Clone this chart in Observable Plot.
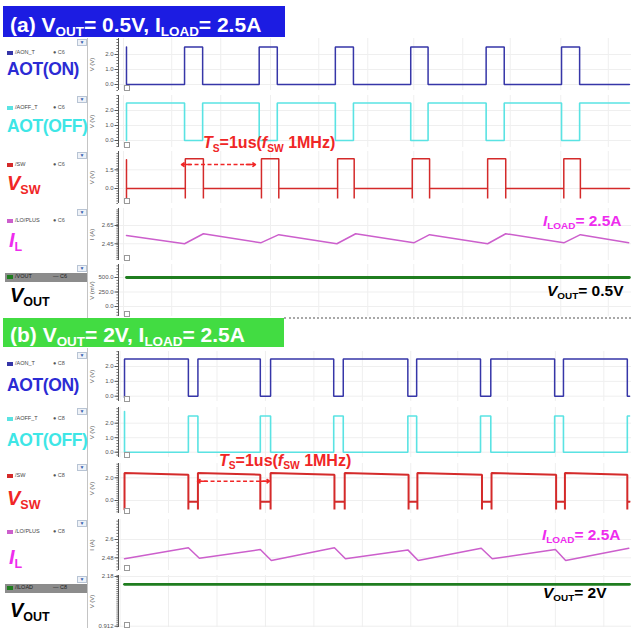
<!DOCTYPE html>
<html><head><meta charset="utf-8">
<script src="https://cdn.jsdelivr.net/npm/d3@7"></script>
<script src="https://cdn.jsdelivr.net/npm/@observablehq/plot@0.6"></script>
<style>
body{margin:0;background:#fff;font-family:"Liberation Sans",Arial,sans-serif;}
#wrap{position:relative;width:631px;height:628px;overflow:hidden;background:#fff;}
.sb{font-size:0.64em;position:relative;top:0.3em;}
.it{font-style:italic;}
</style></head>
<body><div id="wrap"></div>
<script>
// ---------- Section (a): VOUT = 0.5 V, ILOAD = 2.5 A (time in µs) ----------
const aTimeDomain = [-0.106, 6.698];
const aTraceEnd = 6.67;
const aOnStart = [0.77, 1.76, 2.77, 3.77, 4.77, 5.77];
const aOnEnd   = [1.01, 2.00, 3.01, 4.00, 5.01, 6.01];
const aSwStart = [0.78, 1.79, 2.80, 3.79, 4.79, 5.80];
const aSwEnd   = [1.02, 2.02, 3.02, 4.02, 5.03, 6.02];
const aSwHigh = 2.38;
const aIlT = [0, 0.77, 1.02, 1.78, 2.02, 2.79, 3.04, 3.81, 4.02, 4.79, 5.03, 5.80, 6.02, 6.66];
const aIlA = [2.54, 2.45, 2.56, 2.46, 2.55, 2.45, 2.56, 2.46, 2.55, 2.45, 2.56, 2.46, 2.55, 2.46];
const aVoutT = [0, 6.67];
const aVoutMV = [500, 500];
const aGridT = [-0.04, 0.60, 1.25, 1.91, 2.55, 3.20, 3.81, 4.46, 5.09, 5.76, 6.39];
const aArrowT = [0.73, 1.71];
const aArrowV = 1.92;

// ---------- Section (b): VOUT = 2 V, ILOAD = 2.5 A ----------
const bTimeDomain = [-0.082, 6.907];
const bTraceEnd = 6.88;
const bOffStart = [0.87, 1.85, 2.85, 3.86, 4.85, 5.86, 6.85];
const bOffEnd   = [1.00, 1.99, 2.98, 3.98, 4.99, 5.98, 6.88];
const bSwLowStart = [0.87, 1.85, 2.86, 3.87, 4.87, 5.88, 6.85];
const bSwLowEnd   = [1.00, 1.99, 3.00, 3.99, 5.00, 6.00, 6.88];
const bSwHighStart = 2.42;
const bSwHighEnd = 2.27;
const bSwFlat = -0.1;
const bIlT = [0, 0.87, 1.02, 1.85, 2.00, 2.86, 3.01, 3.86, 4.00, 4.86, 5.01, 5.87, 6.01, 6.87];
const bIlA = [2.474, 2.546, 2.477, 2.534, 2.462, 2.546, 2.474, 2.532, 2.462, 2.543, 2.474, 2.534, 2.462, 2.543];
const bVoutT = [0, 6.88];
const bVoutV = [1.98, 1.98];
const bGridT = [-0.06, 0.60, 1.26, 1.92, 2.58, 3.24, 3.90, 4.54, 5.22, 5.87, 6.53];
const bArrowT = [0.995, 1.975];
const bArrowV = 1.70;

// common levels
const gateHigh = 2.5;
const gateLow = 0;
const swSpike = -0.8;

// ---------- axis ticks ----------
const ticksGate = [0, 1, 2];
const ticksSwA = [0, 1.5];
const ticksIlA = [2.45, 2.65];
const ticksVoutA = [0, 250, 500];
const ticksSwB = [0, 2];
const ticksIlB = [2.48, 2.6];
const ticksVoutB = [0.912, 2.18];

const legendNamesA = ["/AON_T", "/AOFF_T", "/SW", "/LO/PLUS", "/VOUT"];
const legendNamesB = ["/AON_T", "/AOFF_T", "/SW", "/LO/PLUS", "/ILOAD"];

// ---------- builders ----------
function gate(starts, ends, base, pulse, tEnd, first) {
  const pts = first.map(v => ({t: 0, v}));
  starts.forEach((s, i) => {
    const e = Math.min(ends[i], tEnd);
    pts.push({t: s, v: base}, {t: s, v: pulse}, {t: e, v: pulse});
    if (ends[i] < tEnd) pts.push({t: e, v: base});
  });
  const last = pts[pts.length - 1];
  if (last.t < tEnd) pts.push({t: tEnd, v: last.v});
  return pts;
}
function swA(starts, ends, hi, spike, tEnd, first) {
  const pts = first.map(v => ({t: 0, v}));
  starts.forEach((s, i) => {
    const e = ends[i];
    pts.push({t: s, v: 0}, {t: s, v: spike}, {t: s, v: hi}, {t: e, v: hi}, {t: e, v: spike}, {t: e, v: 0});
  });
  pts.push({t: tEnd, v: 0});
  return pts;
}
function swB(lows, lowe, hiS, hiE, flat, spike, tEnd, first) {
  const pts = first.map(v => ({t: 0, v}));
  lows.forEach((s, i) => {
    pts.push({t: s, v: hiE}, {t: s, v: spike}, {t: s, v: flat});
    const e = Math.min(lowe[i], tEnd);
    pts.push({t: e, v: flat});
    if (lowe[i] < tEnd) pts.push({t: e, v: spike}, {t: e, v: hiS});
  });
  const last = pts[pts.length - 1];
  if (last.t < tEnd) pts.push({t: tEnd, v: last.v});
  return pts;
}
const zip = (T, V) => T.map((t, i) => ({t, v: V[i]}));

const C = {
  on: "#3636a8", onLbl: "#2b2bd4",
  off: "#5ae3e3", offLbl: "#3ee6e6",
  sw: "#d42a2a", swLbl: "#f02626",
  il: "#cc5fcc", ilLbl: "#ee2cee",
  vo: "#1f7d1f", voLbl: "#000"
};

const wrap = document.getElementById("wrap");
function el(style, html) {
  const d = document.createElement("div");
  Object.assign(d.style, {position: "absolute", whiteSpace: "nowrap"}, style);
  if (html != null) d.innerHTML = html;
  wrap.appendChild(d);
  return d;
}
function textAt(html, left, baseline, fs, color, extra = {}) {
  return el(Object.assign({left: left + "px", top: (baseline - 0.847 * fs) + "px", fontSize: fs + "px",
    lineHeight: "1", color, fontWeight: "bold"}, extra), html);
}
const sub = s => `<span class="sb">${s}</span>`;

// ---------- headers ----------
el({left: "3px", top: "6px", width: "282px", height: "31px", background: "#1c1ce2"});
textAt(`(a) V${sub("OUT")}= 0.5V, I${sub("LOAD")}= 2.5A`, 10, 31.5, 21, "#fff");
el({left: "3px", top: "318px", width: "281px", height: "29px", background: "#42dc42"});
textAt(`(b) V${sub("OUT")}= 2V, I${sub("LOAD")}= 2.5A`, 10, 341.5, 21, "#fff");

// separators
el({left: "87px", top: "38px", width: "1px", height: "280px", background: "#c4c4c4"});
el({left: "87px", top: "348px", width: "1px", height: "280px", background: "#c4c4c4"});
el({left: "284px", top: "317px", width: "347px", height: "0px", borderTop: "2px dotted #a8a8a8"});

// ---------- rows ----------
const rows = [
  {sec: "a", top: 38, bottom: 90, yDom: [-0.4, 3.067], ticks: ticksGate, fmt: d3.format(".1f"), label: "V (V)",
   data: gate(aOnStart, aOnEnd, gateLow, gateHigh, aTraceEnd, [gateHigh, gateLow]), color: C.on, sw: 1.5},
  {sec: "a", top: 95, bottom: 147, yDom: [-0.467, 3.0], ticks: ticksGate, fmt: d3.format(".1f"), label: "V (V)",
   data: gate(aOnStart, aOnEnd, gateHigh, gateLow, aTraceEnd, [gateLow, gateHigh]), color: C.off, sw: 1.6},
  {sec: "a", top: 151, bottom: 203, yDom: [-1.203, 2.968], ticks: ticksSwA, fmt: d3.format(".1f"), label: "V (V)",
   data: swA(aSwStart, aSwEnd, aSwHigh, swSpike, aTraceEnd, [2.3, swSpike, 0]), color: C.sw, sw: 1.5, arrow: [aArrowT, aArrowV]},
  {sec: "a", top: 208, bottom: 260, yDom: [2.267, 2.836], ticks: ticksIlA, fmt: d3.format(".2f"), label: "I (A)",
   data: zip(aIlT, aIlA), color: C.il, sw: 1.5},
  {sec: "a", top: 264, bottom: 316, yDom: [-172, 724], ticks: ticksVoutA, fmt: d3.format(".1f"), label: "V (mV)",
   data: zip(aVoutT, aVoutMV), color: C.vo, sw: 2.8},
  {sec: "b", top: 351, bottom: 401, yDom: [-0.357, 3.01], ticks: ticksGate, fmt: d3.format(".1f"), label: "V (V)",
   data: gate(bOffStart, bOffEnd, gateHigh, gateLow, bTraceEnd, [-0.1, gateHigh]), color: C.on, sw: 1.5},
  {sec: "b", top: 407, bottom: 457, yDom: [-0.366, 3.083], ticks: ticksGate, fmt: d3.format(".1f"), label: "V (V)",
   data: gate(bOffStart, bOffEnd, gateLow, gateHigh, bTraceEnd, [2.8, gateLow]), color: C.off, sw: 1.6},
  {sec: "b", top: 463, bottom: 513, yDom: [-1.145, 3.26], ticks: ticksSwB, fmt: d3.format(".1f"), label: "V (V)",
   data: swB(bSwLowStart, bSwLowEnd, bSwHighStart, bSwHighEnd, bSwFlat, swSpike, bTraceEnd, [swSpike, bSwHighStart]), color: C.sw, sw: 2, arrow: [bArrowT, bArrowV]},
  {sec: "b", top: 519, bottom: 570, yDom: [2.397, 2.731], ticks: ticksIlB, fmt: d => String(d), label: "I (A)",
   data: zip(bIlT, bIlA), color: C.il, sw: 1.5},
  {sec: "b", top: 575, bottom: 627, yDom: [0.879, 2.2055], ticks: ticksVoutB, fmt: d => String(d), label: "V (V)",
   data: zip(bVoutT, bVoutV), color: C.vo, sw: 2.8}
];

const pad = 6;
rows.forEach(r => {
  const xDom = r.sec === "a" ? aTimeDomain : bTimeDomain;
  const grid = r.sec === "a" ? aGridT : bGridT;
  const marks = [
    Plot.ruleX(grid, {stroke: "#efefef", strokeWidth: 1}),
    Plot.gridY(r.ticks, {stroke: "#efefef", strokeOpacity: 1}),
    Plot.axisY({ticks: 22, tickSize: 1.6, tickFormat: () => "", stroke: "#777", label: null}),
    Plot.axisY(r.ticks, {tickSize: 3.5, tickPadding: 1.5, tickFormat: r.fmt, fontSize: 6, fill: "#555", stroke: "#555", label: null}),
    Plot.ruleX([xDom[0]], {stroke: "#555", strokeWidth: 1}),
    Plot.text([r.label], {text: d => d, frameAnchor: "left", rotate: -90, dx: -26, fontSize: 6, fill: "#555", textAnchor: "middle"}),
    Plot.line(r.data, {x: "t", y: "v", stroke: r.color, strokeWidth: r.sw, strokeLinejoin: "miter"})
  ];
  if (r.arrow) {
    const [T, v] = r.arrow;
    const seg = [{x1: T[0], x2: T[1], y: v}];
    marks.push(
      Plot.link(seg, {x1: "x1", x2: "x2", y1: "y", y2: "y", stroke: C.swLbl, strokeWidth: 1.6, strokeDasharray: "4,2.5"}),
      Plot.arrow([{a: T[0] + 0.12, b: T[0]}, {a: T[1] - 0.12, b: T[1]}], {x1: "a", x2: "b", y1: () => v, y2: () => v,
        stroke: C.swLbl, strokeWidth: 1.6, headLength: 6, headAngle: 70})
    );
  }
  const H = r.bottom - r.top + 2 * pad;
  const svg = Plot.plot({
    width: 543, height: H,
    marginLeft: 30, marginRight: 0, marginTop: pad, marginBottom: pad,
    style: {background: "transparent", overflow: "visible", fontFamily: "Liberation Sans, Arial, sans-serif"},
    x: {domain: xDom, axis: null},
    y: {domain: r.yDom, axis: null},
    marks
  });
  svg.style.position = "absolute";
  svg.style.left = "88px";
  svg.style.top = (r.top - pad) + "px";
  wrap.appendChild(svg);
  el({left: "124px", top: (r.bottom - 5) + "px", width: "4px", height: "4px", border: "1px solid #999", background: "#fff"});
  el({left: "77px", top: (r.top + 1) + "px", width: "8px", height: "5px", border: "1px solid #b8c4d4", background: "#eef2f8",
      fontSize: "5px", lineHeight: "5px", color: "#3a5fb0", textAlign: "center"}, "▼");
});

// ---------- left legends ----------
const legA = [53, 108, 165, 221, 277];
const legB = [364, 419, 476, 532, 588];
const legColors = [C.on, C.off, C.sw, C.il, C.vo];
function legend(ys, names, ch) {
  ys.forEach((y, i) => {
    const sel = i === 4;
    if (sel) el({left: "5px", top: (y - 4.5) + "px", width: "82px", height: "9px", background: "#8c8c8c"});
    el({left: "7px", top: (y - 2) + "px", width: "6px", height: "4px", background: legColors[i]});
    textAt(names[i], 15, y + 2, 5.5, sel ? "#222" : "#444", {fontWeight: "normal"});
    textAt((sel ? "— " : "● ") + ch, 53, y + 2, 5.5, sel ? "#222" : "#555", {fontWeight: "normal"});
  });
}
legend(legA, legendNamesA, "C6");
legend(legB, legendNamesB, "C8");

// ---------- big labels ----------
function bigLabels(b) {
  textAt("AOT(ON)", 7, b[0], 17.5, C.onLbl, {letterSpacing: "-0.4px"});
  textAt("AOT(OFF)", 7, b[1], 17.5, C.offLbl, {letterSpacing: "-0.4px"});
  textAt(`<span class="it">V</span><span style="font-size:12.5px;position:relative;top:4px">SW</span>`, 7, b[2], 20, C.swLbl);
  textAt(`<span class="it">I</span><span style="font-size:12.5px;position:relative;top:4px">L</span>`, 9, b[3], 20, C.ilLbl);
  textAt(`<span class="it">V</span><span style="font-size:12.5px;position:relative;top:4px">OUT</span>`, 10, b[4], 20, C.voLbl);
}
bigLabels([76, 133, 190, 247, 302]);
bigLabels([392, 447, 505, 564, 617]);

// ---------- annotations ----------
const tsHtml = `<span class="it">T</span>${sub("S")}=1us(<span class="it">f</span>${sub("SW")} 1MHz)`;
textAt(tsHtml, 203, 149, 16, C.swLbl);
textAt(tsHtml, 219, 466.5, 16, C.swLbl);
const ilHtml = `<span class="it">I</span>${sub("LOAD")}= 2.5A`;
textAt(ilHtml, 543, 226.5, 15.5, C.ilLbl);
textAt(ilHtml, 542, 540, 15.5, C.ilLbl);
textAt(`<span class="it">V</span>${sub("OUT")}= 0.5V`, 547, 296.5, 15.5, "#000");
textAt(`<span class="it">V</span>${sub("OUT")}= 2V`, 543, 598, 15.5, "#000");
</script>
</body></html>
